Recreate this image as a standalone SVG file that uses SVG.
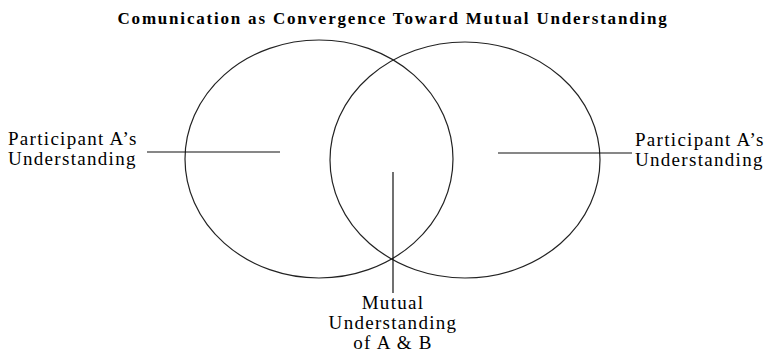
<svg xmlns="http://www.w3.org/2000/svg" width="771" height="356" viewBox="0 0 771 356">
<style>
.t{font-family:"Liberation Serif","Times New Roman",serif;font-size:19px;fill:#000;letter-spacing:1.3px}
.title{font-family:"Liberation Serif","Times New Roman",serif;font-size:17px;font-weight:bold;fill:#000;letter-spacing:1.8px}
.e{fill:none;stroke:#222;stroke-width:1.2}
.c{stroke:#111;stroke-width:1.2;fill:none}
</style>
<rect width="771" height="356" fill="#fff"/>
<text class="title" x="393" y="24" text-anchor="middle">Comunication as Convergence Toward Mutual Understanding</text>
<g id="circleA"><ellipse class="e" cx="319" cy="159" rx="134" ry="119"/></g>
<g id="circleB"><ellipse class="e" cx="465" cy="160" rx="135" ry="118"/></g>
<g id="connectors">
<line class="c" x1="147" y1="152" x2="280" y2="152"/>
<line class="c" x1="498" y1="153" x2="632" y2="153"/>
<line class="c" x1="393" y1="172" x2="393" y2="293"/>
</g>
<g id="labelA"><text class="t" x="8" y="145">Participant A’s</text><text class="t" x="8" y="165">Understanding</text></g>
<g id="labelB"><text class="t" x="635" y="146">Participant A’s</text><text class="t" x="635" y="166">Understanding</text></g>
<g id="labelMutual"><text class="t" text-anchor="middle" x="393" y="309">Mutual</text><text class="t" text-anchor="middle" x="393" y="329">Understanding</text><text class="t" text-anchor="middle" x="393" y="349">of A &amp; B</text></g>
</svg>
